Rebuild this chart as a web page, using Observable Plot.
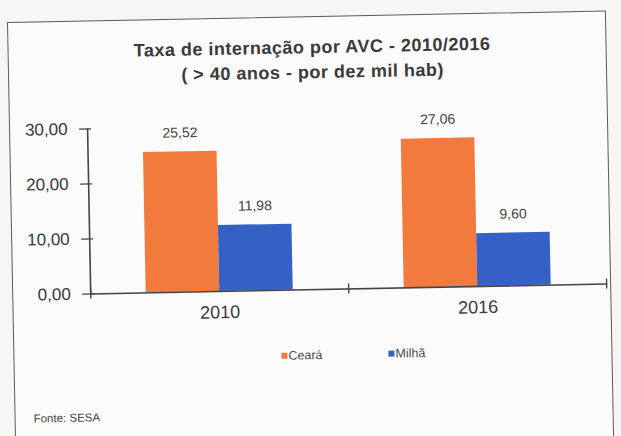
<!DOCTYPE html>
<html><head><meta charset="utf-8">
<script src="https://cdn.jsdelivr.net/npm/d3@7"></script>
<script src="https://cdn.jsdelivr.net/npm/@observablehq/plot@0.6"></script>
<style>
html,body{margin:0;padding:0;background:#f6f6f5;width:621px;height:436px;overflow:hidden;font-family:"Liberation Sans",Arial,sans-serif;}
#chart{position:absolute;left:7px;top:22px;width:597px;height:440px;border:1px solid #5a5a5a;background:#fbfbfb;transform:rotate(-1.1deg);transform-origin:0 0;}
#title{position:absolute;left:5px;top:18px;width:597px;text-align:center;font-weight:bold;font-size:18px;letter-spacing:0.5px;line-height:25px;color:#3a3a3a;}
#plot{position:absolute;left:0;top:80px;}
#legend{position:absolute;left:267px;top:331px;display:flex;gap:66px;font-size:12.5px;color:#4a4a55;}
#legend .item{display:flex;align-items:center;gap:1px;}
#legend .sw{width:6px;height:6px;display:inline-block;}
#caption{position:absolute;left:18px;top:390px;font-size:11.5px;color:#444;}
</style></head>
<body>
<div id="chart">
  <div id="title"></div>
  <div id="plot"></div>
  <div id="legend"></div>
  <div id="caption"></div>
</div>
<script>
const titleLines = ["Taxa de internação por AVC - 2010/2016", "( > 40 anos - por dez mil hab)"];
const years = ["2010", "2016"];
const series = ["Ceará", "Milhã"];
const cearaValues = [25.52, 27.06];
const milhaValues = [11.98, 9.60];
const colors = ["#f27a3c", "#3561c4"];
const yTicks = [0, 10, 20, 30];
const captionText = "Fonte:  SESA";

const rows = years.flatMap((year, i) => [
  {year, i, s: 0, series: series[0], value: cearaValues[i]},
  {year, i, s: 1, series: series[1], value: milhaValues[i]}
]);
const barW = 0.285;
const fmt = v => (+v).toFixed(2).replace(".", ",");

document.getElementById("title").innerHTML = titleLines.map(t => `<div>${t}</div>`).join("");
document.getElementById("caption").textContent = captionText;
document.getElementById("legend").innerHTML = series.map((s, k) =>
  `<div class="item"><span class="sw" style="background:${colors[k]}"></span><span>${s}</span></div>`).join("");

const chart = Plot.plot({
  width: 597, height: 232,
  marginLeft: 77, marginRight: 4, marginTop: 27, marginBottom: 40,
  style: {background: "transparent", fontFamily: "Liberation Sans, Arial, sans-serif", color: "#3a3a3a"},
  x: {domain: [0, years.length], axis: null},
  y: {domain: [0, 30], axis: null},
  color: {domain: series, range: colors},
  marks: [
    Plot.rectY(rows, {x1: d => d.i + 0.5 + (d.s - 1) * barW, x2: d => d.i + 0.5 + d.s * barW, y: "value", fill: "series"}),
    Plot.text(rows, {x: d => d.i + 0.5 + (d.s - 0.5) * barW, y: "value", text: d => fmt(d.value), dy: -19, fontSize: 14, fill: "#444"}),
    Plot.ruleY([0], {stroke: "#444", strokeWidth: 1.6}),
    Plot.ruleX([0], {stroke: "#444", strokeWidth: 1.6}),
    Plot.axisY({ticks: yTicks, label: null, tickSize: 12, dx: 4, tickPadding: 12, tickFormat: fmt, fontSize: 17, stroke: "#444", strokeWidth: 1.4}),
    Plot.axisX({ticks: d3.range(years.length + 1), label: null, tickSize: 10, dy: -5, tickFormat: () => "", stroke: "#444", strokeWidth: 1.4}),
    Plot.axisX({ticks: years.map((_, i) => i + 0.5), label: null, tickSize: 0, tickPadding: 14, tickFormat: d => years[Math.floor(d)], fontSize: 18})
  ]
});
document.getElementById("plot").appendChild(chart);
</script>
</body></html>
